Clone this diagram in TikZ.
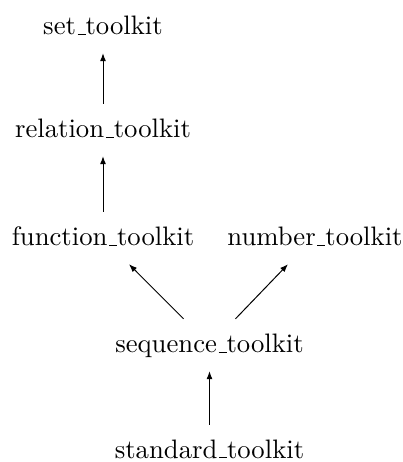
\documentclass[tikz,border=0pt]{standalone}
\usetikzlibrary{arrows.meta}
\font\lmten="[lmroman10-regular.otf]" at 26.7pt
\newcommand\myus{\leavevmode\kern0.06em\rule{0.3em}{1.1pt}}
\begin{document}
\begin{tikzpicture}[x=1pt,y=1pt,
  lbl/.style={anchor=base,inner sep=0pt,text height=34pt,text depth=0pt,font=\lmten},
  arr/.style={-{Latex[length=8pt,width=6pt]},line width=1pt,shorten >=18pt}]
\useasboundingbox (0,0) rectangle (403,462);
\node[lbl] (set) at (103,427) {set\myus toolkit};
\node[lbl] (rel) at (103,324) {relation\myus toolkit};
\node[lbl] (fun) at (103,216) {function\myus toolkit};
\node[lbl] (num) at (315,216) {number\myus toolkit};
\node[lbl] (seq) at (209.5,109) {sequence\myus toolkit};
\node[lbl] (std) at (209.5,4) {standard\myus toolkit};
\draw[arr] (rel.north) -- (set.south);
\draw[arr] (fun.north) -- (rel.south);
\draw[arr,shorten >=0pt] ([xshift=-26pt]seq.north) -- ([xshift=26pt,yshift=-18pt]fun.south);
\draw[arr,shorten >=0pt] ([xshift=26pt]seq.north) -- ([xshift=-27pt,yshift=-18pt]num.south);
\draw[arr] ([yshift=-1pt]std.north) -- (seq.south);
\end{tikzpicture}
\end{document}
